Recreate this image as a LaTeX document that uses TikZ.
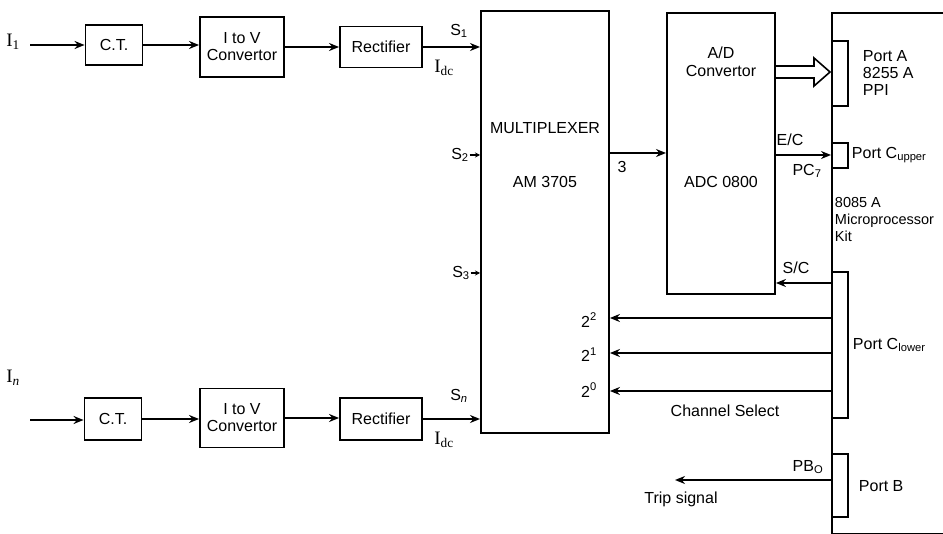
\documentclass[tikz,border=0pt]{standalone}
\usepackage{fontspec}
\setmainfont{Liberation Sans}
\newfontfamily\tms{Liberation Serif}
\usetikzlibrary{arrows.meta,positioning,calc}

\begin{document}
\begin{tikzpicture}[x=1pt,y=-1pt,>={Stealth[length=10pt,width=8pt]},line width=1.9pt,font=\fontsize{16}{18}\selectfont]
\useasboundingbox (0,0) rectangle (943,534);
\tikzstyle{b}=[draw,inner sep=0pt,align=center,font=\fontsize{16}{17}\selectfont]
\tikzstyle{port}=[draw,anchor=north west,minimum width=16pt,inner sep=0pt]
\tikzstyle{t}=[inner sep=0pt,align=left]
% channel 1
\node[b,minimum width=57pt,minimum height=40pt] (ct1) at (114,45) {C.T.};
\node[b,minimum width=84pt,minimum height=60pt] (iv1) at (242,47) {I to V\\Convertor};
\node[b,minimum width=82pt,minimum height=41pt] (rec1) at (381,47) {Rectifier};
% channel n
\node[b,minimum width=57pt,minimum height=42pt] (ctn) at (113,419) {C.T.};
\node[b,minimum width=84pt,minimum height=59pt] (ivn) at (242,418) {I to V\\Convertor};
\node[b,minimum width=82pt,minimum height=42pt] (recn) at (381,419) {Rectifier};
% main blocks
\node[draw,anchor=north west,minimum width=128pt,minimum height=422pt] (mux) at (480,10) {};
\node[draw,anchor=north west,minimum width=108pt,minimum height=281pt] (adc) at (666,12) {};
\node[draw,anchor=north west,minimum width=160pt,minimum height=521pt] (kit) at (831,12) {};
\node[port,minimum height=65pt] (pa) at (831,40) {};
\node[port,minimum height=25pt] (pcu) at (831,142) {};
\node[port,minimum height=146pt] (pcl) at (831,271) {};
\node[port,minimum height=63pt] (pb) at (831,453) {};
\node[t] (muxa) at (545,128) {MULTIPLEXER};
\node[t] (muxb) at (545,182) {AM 3705};
\node[t,align=center] (adca) at (721,62) {A/D\\Convertor};
\node[t] (adcb) at (721,182) {ADC 0800};
\node[t,anchor=west] (pat) at (862,73) {Port A\\[-1pt]8255 A\\[-1pt]PPI};
\node[t,anchor=west] (pcut) at (851,155) {Port C\textsubscript{upper}};
\node[t,anchor=west,font=\fontsize{14.5}{17}\selectfont] (kitt) at (834,219) {8085 A\\Microprocessor\\Kit};
\node[t,anchor=west] (pclt) at (852,345) {Port C\textsubscript{lower}};
\node[t,anchor=west] (pbt) at (858,486) {Port B};
% inputs
\node[t,font=\fontsize{19}{20}\selectfont] (i1) at (13,42) {\tms I\textsubscript{1}};
\node[t,font=\fontsize{19}{20}\selectfont] (in) at (13,378) {\tms I\textsubscript{\textit{n}}};
\coordinate (a1) at (30,45);
\coordinate (an) at (30,420);
\draw[->] (a1) -- (a1 -| ct1.west);
\draw[->] (ct1.east) -- (ct1.east -| iv1.west);
\draw[->] (iv1.east) -- (iv1.east -| rec1.west);
\draw[->] (rec1.east) -- (rec1.east -| mux.west);
\draw[->] (an) -- (an -| ctn.west);
\draw[->] (ctn.east) -- (ctn.east -| ivn.west);
\draw[->] (ivn.east) -- (ivn.east -| recn.west);
\draw[->] (recn.east) -- (recn.east -| mux.west);
\node[t] (s1) at (459,31) {S\textsubscript{1}};
\node[t,font=\fontsize{19}{20}\selectfont] (idc1) at (444,68) {\tms I\textsubscript{dc}};
\node[t] (sn) at (459,396) {S\textsubscript{\textit{n}}};
\node[t,font=\fontsize{19}{20}\selectfont] (idcn) at (444,440) {\tms I\textsubscript{dc}};
\node[t] (s2) at (460,155) {S\textsubscript{2}};
\node[t] (s3) at (461,273) {S\textsubscript{3}};
\draw[->,>={Stealth[length=5pt,width=5pt]}] (s2.east) -- (s2.east -| mux.west);
\draw[->,>={Stealth[length=5pt,width=5pt]}] (s3.east) -- (s3.east -| mux.west);
% mux to adc
\coordinate (m3) at (608,153);
\draw[->] (m3) -- (m3 -| adc.west);
\node[t] (l3) at (622,167) {3};
% data bus to port A
\coordinate (da) at (775,72);
\draw[line width=1.6pt,line join=miter] (da) ++(0,-6) -- ++(39,0) -- ++(0,-8) -- ++(16,14) -- ++(-16,14) -- ++(0,-8) -- ++(-39,0);
% control lines
\coordinate (ec) at (774,155);
\draw[->] (ec) -- (ec -| pcu.west);
\node[t] (ect) at (790,140) {E/C};
\node[t] (pc7) at (807,171) {PC\textsubscript{7}};
\coordinate (sc) at (831,283);
\draw[->] (sc) -- (sc -| adc.east);
\node[t] (sct) at (796,268) {S/C};
\coordinate (c2) at (831,318);
\coordinate (c1) at (831,353);
\coordinate (c0) at (831,391);
\draw[->] (c2) -- (c2 -| mux.east);
\draw[->] (c1) -- (c1 -| mux.east);
\draw[->] (c0) -- (c0 -| mux.east);
\node[t] (l2) at (589,320) {2\textsuperscript{2}};
\node[t] (l1) at (589,355) {2\textsuperscript{1}};
\node[t] (l0) at (589,390) {2\textsuperscript{0}};
\node[t] (chs) at (725,411) {Channel Select};
% trip
\coordinate (tr) at (831,480);
\coordinate (trend) at (675,480);
\draw[->] (tr) -- (trend);
\node[t] (pbo) at (808,467) {PB\textsubscript{O}};
\node[t] (trt) at (681,499) {Trip signal};
\end{tikzpicture}
\end{document}
